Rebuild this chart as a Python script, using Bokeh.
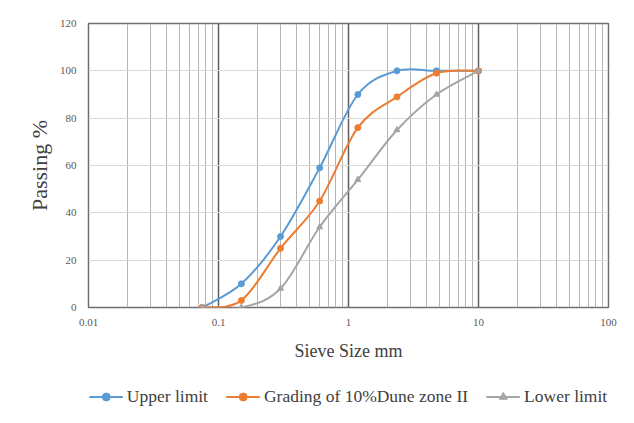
import numpy as np
from bokeh.plotting import figure
from bokeh.layouts import column
from bokeh.models import Legend, LegendItem, FixedTicker, LogTicker, Range1d, NumeralTickFormatter
from bokeh.embed import file_html
from bokeh.resources import INLINE

sieve_mm = [0.075, 0.15, 0.3, 0.6, 1.18, 2.36, 4.75, 10]
upper_limit = [0, 10, 30, 59, 90, 100, 100, 100]
grading_dune = [0, 3, 25, 45, 76, 89, 99, 100]
lower_limit = [0, 0, 8, 34, 54, 75, 90, 100]

series_names = ["Upper limit", "Grading of 10%Dune zone II", "Lower limit"]
series_colors = ["#5B9BD5", "#ED7D31", "#A5A5A5"]
series_markers = ["circle", "circle", "triangle"]

FONT = "Liberation Serif"

p = figure(x_axis_type="log",
           x_range=Range1d(0.01, 100), y_range=Range1d(0, 120),
           output_backend="svg", toolbar_location=None,
           frame_width=520, frame_height=284,
           min_border_left=88, min_border_right=26,
           min_border_top=23, min_border_bottom=0)
p.border_fill_color = "white"
p.outline_line_color = "#6E6E6E"
p.outline_line_width = 1.5

p.xaxis.ticker = LogTicker(num_minor_ticks=10)
p.xaxis.formatter = NumeralTickFormatter(format="0.[00]")
p.yaxis.ticker = FixedTicker(ticks=[0, 20, 40, 60, 80, 100, 120])
p.xgrid.grid_line_color = "#5E5E5E"
p.xgrid.grid_line_width = 1.5
p.xgrid.minor_grid_line_color = "#B4B4B4"
p.xgrid.minor_grid_line_width = 1
p.ygrid.grid_line_color = "#D9D9D9"

for ax in (p.xaxis, p.yaxis):
    ax.axis_line_color = None
    ax.major_tick_line_color = None
    ax.minor_tick_line_color = None
    ax.major_label_text_font = FONT
    ax.major_label_text_font_size = "11px"
    ax.major_label_text_color = "#595959"
    ax.axis_label_text_font = FONT
    ax.axis_label_text_font_style = "normal"
    ax.axis_label_text_color = "#404040"

p.xaxis.axis_label = "Sieve Size mm"
p.xaxis.axis_label_text_font_size = "18px"
p.xaxis.major_label_standoff = 5
p.xaxis.axis_label_standoff = 12
p.yaxis.axis_label = "Passing %"
p.yaxis.axis_label_text_font_size = "22px"
p.yaxis.major_label_standoff = 6
p.yaxis.axis_label_standoff = 5


def smooth_segments(xs, ys):
    # Catmull-Rom smoothing (like Excel's smoothed line) computed in screen-like space
    lx = np.log10(np.array(xs, dtype=float)) * 130.0
    ly = np.array(ys, dtype=float) * 2.365
    n = len(lx)
    out = {k: [] for k in ("x0", "y0", "x1", "y1", "cx0", "cy0", "cx1", "cy1")}
    t = 1.0 / 6.0
    for i in range(n - 1):
        p0 = (lx[max(i - 1, 0)], ly[max(i - 1, 0)])
        p1 = (lx[i], ly[i])
        p2 = (lx[i + 1], ly[i + 1])
        p3 = (lx[min(i + 2, n - 1)], ly[min(i + 2, n - 1)])
        c0 = (p1[0] + (p2[0] - p0[0]) * t, p1[1] + (p2[1] - p0[1]) * t)
        c1 = (p2[0] - (p3[0] - p1[0]) * t, p2[1] - (p3[1] - p1[1]) * t)
        for key, pt in (("0", p1), ("1", p2)):
            out["x" + key].append(10 ** (pt[0] / 130.0))
            out["y" + key].append(pt[1] / 2.365)
        out["cx0"].append(10 ** (c0[0] / 130.0))
        out["cy0"].append(c0[1] / 2.365)
        out["cx1"].append(10 ** (c1[0] / 130.0))
        out["cy1"].append(c1[1] / 2.365)
    return out


# separate strip underneath the chart that carries the legend
leg_fig = figure(width=634, height=66, x_range=Range1d(0, 1), y_range=Range1d(0, 1),
                 output_backend="svg", toolbar_location=None,
                 min_border=0)
leg_fig.axis.visible = False
leg_fig.grid.visible = False
leg_fig.outline_line_color = None
leg_fig.border_fill_color = "white"

items = []
for name, vals, col, mk in zip(series_names, [upper_limit, grading_dune, lower_limit],
                               series_colors, series_markers):
    seg = smooth_segments(sieve_mm, vals)
    p.bezier(x0=seg["x0"], y0=seg["y0"], x1=seg["x1"], y1=seg["y1"],
             cx0=seg["cx0"], cy0=seg["cy0"], cx1=seg["cx1"], cy1=seg["cy1"],
             line_color=col, line_width=2)
    p.scatter(sieve_mm, vals, marker=mk, size=6, fill_color=col, line_color=col)
    # legend-only renderers (hidden) in the legend strip
    lr = leg_fig.line(sieve_mm, vals, line_color=col, line_width=2, visible=False)
    sr = leg_fig.scatter(sieve_mm, vals, marker=mk, size=6, fill_color=col,
                         line_color=col, visible=False)
    items.append(LegendItem(label=name, renderers=[lr, sr]))

legend = Legend(items=items, orientation="horizontal", location="center",
                label_text_font=FONT, label_text_font_size="17.5px",
                label_text_color="#404040", border_line_color=None,
                background_fill_alpha=0, inactive_fill_alpha=0,
                glyph_width=34, label_standoff=4, spacing=18, margin=0, padding=2)
leg_fig.add_layout(legend, "center")

layout = column(p, leg_fig, spacing=0)
open("out.html", "w").write(file_html(layout, INLINE))
